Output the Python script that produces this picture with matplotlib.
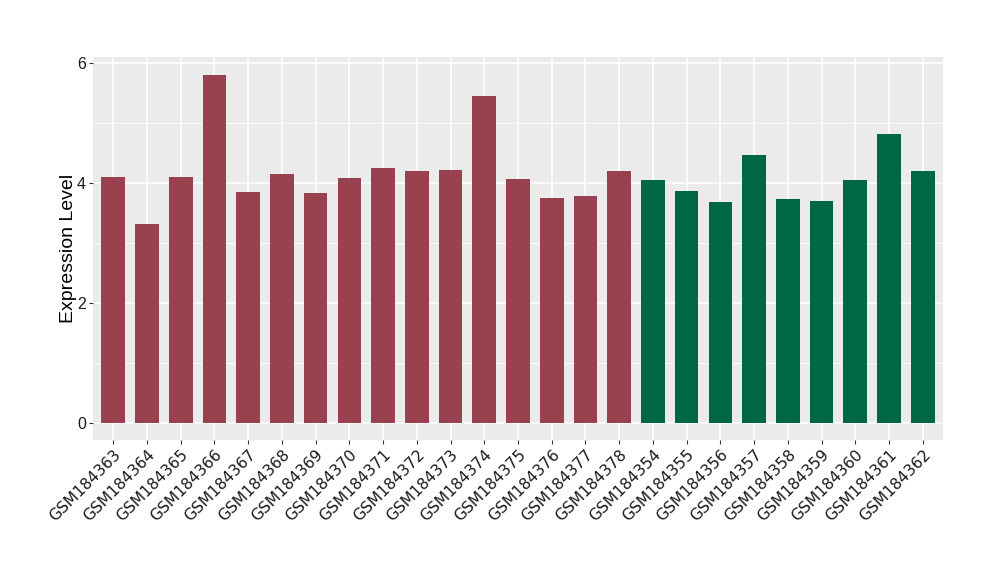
import numpy as np
import matplotlib
matplotlib.use("Agg")
import matplotlib.pyplot as plt
from matplotlib.ticker import MultipleLocator

plt.rcParams['font.family'] = ['Liberation Sans', 'DejaVu Sans']

# samples in plotting order
samples = ["GSM184363", "GSM184364", "GSM184365", "GSM184366", "GSM184367",
           "GSM184368", "GSM184369", "GSM184370", "GSM184371", "GSM184372",
           "GSM184373", "GSM184374", "GSM184375", "GSM184376", "GSM184377",
           "GSM184378", "GSM184354", "GSM184355", "GSM184356", "GSM184357",
           "GSM184358", "GSM184359", "GSM184360", "GSM184361", "GSM184362"]
expression = [4.10, 3.31, 4.10, 5.81, 3.85, 4.15, 3.83, 4.08, 4.25, 4.20,
              4.21, 5.46, 4.06, 3.75, 3.78, 4.20, 4.05, 3.86, 3.68, 4.46,
              3.73, 3.70, 4.05, 4.81, 4.20]
groups = ["a"] * 16 + ["b"] * 9
group_colours = {"a": "#9A4150", "b": "#006745"}

fig = plt.figure(figsize=(10, 5.8), dpi=100)
ax = fig.add_axes([0.093, 0.2414, 0.85, 0.660])

x = np.arange(len(samples))
ax.bar(x, expression, width=0.7, color=[group_colours[g] for g in groups], zorder=3)

# ggplot-like panel
ax.set_facecolor("#EBEBEB")
for s in ax.spines.values():
    s.set_visible(False)
ax.set_xlim(-0.6, len(samples) - 0.4)
ax.set_ylim(-0.29, 6.1)
ax.yaxis.set_major_locator(MultipleLocator(2))
ax.yaxis.set_minor_locator(MultipleLocator(1))
ax.grid(which="major", color="white", linewidth=1.1, zorder=0)
ax.grid(which="minor", axis="y", color="white", linewidth=0.55, zorder=0)
ax.set_axisbelow(True)

ax.tick_params(axis="both", which="major", length=3, width=0.8, color="#333333",
               labelsize=11.5, labelcolor="#1A1A1A", pad=2)
ax.tick_params(axis="y", which="minor", length=0)
ax.set_xticks(x)
ax.set_xticklabels(samples, rotation=45, ha="right", rotation_mode="anchor",
                   fontsize=11.2, color="#1A1A1A", family="DejaVu Sans")
ax.set_ylabel("Expression Level", fontsize=14, labelpad=0)

fig.savefig("out.png", dpi=100)
